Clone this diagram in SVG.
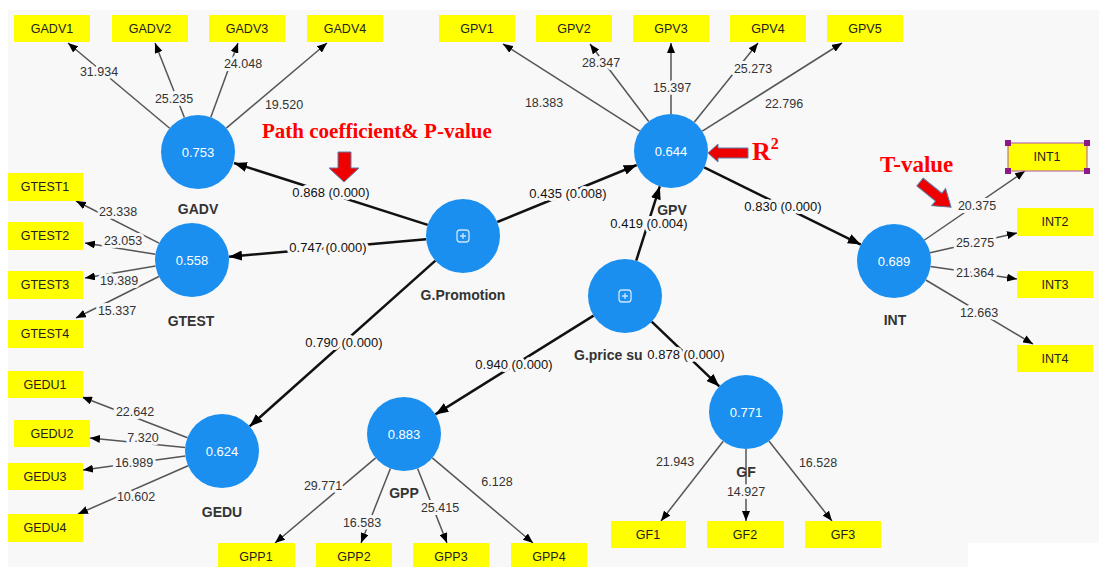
<svg xmlns="http://www.w3.org/2000/svg" width="1099" height="567" viewBox="0 0 1099 567">
<style>
.bg{fill:#f8f8f8}
.lv{fill:#1a8ff0}
.val{font-family:"Liberation Sans",Arial,sans-serif;font-size:13px;fill:#ffffff;text-anchor:middle}
.nl{font-family:"Liberation Sans",Arial,sans-serif;font-size:14px;font-weight:bold;fill:#333;text-anchor:middle}
.ind{fill:#ffff00}
.il{font-family:"Liberation Sans",Arial,sans-serif;font-size:12.5px;fill:#222;text-anchor:middle}
.ol{stroke:#555;stroke-width:1.5;fill:none}
.sp{stroke:#111;stroke-width:2.5;fill:none}
.tl{font-family:"Liberation Sans",Arial,sans-serif;font-size:12.5px;fill:#333;text-anchor:middle;paint-order:stroke;stroke:#f8f8f8;stroke-width:6;stroke-linejoin:round}
.pl{font-family:"Liberation Sans",Arial,sans-serif;font-size:13px;fill:#111;text-anchor:middle;paint-order:stroke;stroke:#f8f8f8;stroke-width:6;stroke-linejoin:round}
.red{font-family:"Liberation Serif","Times New Roman",serif;font-weight:bold;fill:#ff0000}
.rarrow{fill:#ee0000;stroke:#5a7fa8;stroke-width:1}
.icon{fill:none;stroke:#cfe6ff;stroke-width:1.3}
</style>
<defs>
<marker id="ah" markerWidth="10" markerHeight="8" refX="10" refY="4" orient="auto" markerUnits="userSpaceOnUse"><path d="M0,0 L10,4 L0,8 z" fill="#000"/></marker>
<marker id="ahb" markerWidth="13" markerHeight="10" refX="13" refY="5" orient="auto" markerUnits="userSpaceOnUse"><path d="M0,0 L13,5 L0,10 z" fill="#000"/></marker>
</defs>
<rect x="0" y="0" width="1099" height="567" fill="#ffffff"/>
<rect class="bg" x="8" y="10" width="1091" height="557"/>
<rect x="968" y="543" width="131" height="24" fill="#ffffff"/>

<g id="connectors">
<line class="ol" x1="169.7" y1="128.2" x2="68" y2="43" marker-end="url(#ah)"/>
<line class="ol" x1="184.4" y1="117.6" x2="155" y2="43" marker-end="url(#ah)"/>
<line class="ol" x1="210.8" y1="117.3" x2="238" y2="43" marker-end="url(#ah)"/>
<line class="ol" x1="226.3" y1="128.1" x2="327" y2="43" marker-end="url(#ah)"/>
<line class="ol" x1="639.8" y1="131.1" x2="503" y2="44" marker-end="url(#ah)"/>
<line class="ol" x1="648.7" y1="121.5" x2="590" y2="44" marker-end="url(#ah)"/>
<line class="ol" x1="671" y1="114" x2="671" y2="43" marker-end="url(#ah)"/>
<line class="ol" x1="694.2" y1="122.2" x2="758" y2="43" marker-end="url(#ah)"/>
<line class="ol" x1="702.3" y1="131.2" x2="842" y2="43" marker-end="url(#ah)"/>
<line class="ol" x1="159" y1="243.2" x2="76" y2="201" marker-end="url(#ah)"/>
<line class="ol" x1="155.4" y1="254.2" x2="85" y2="243" marker-end="url(#ah)"/>
<line class="ol" x1="155.5" y1="266.1" x2="85" y2="278" marker-end="url(#ah)"/>
<line class="ol" x1="158.9" y1="276.5" x2="76" y2="318" marker-end="url(#ah)"/>
<line class="ol" x1="187.5" y1="437.7" x2="82" y2="397" marker-end="url(#ah)"/>
<line class="ol" x1="185.2" y1="447.4" x2="90" y2="438" marker-end="url(#ah)"/>
<line class="ol" x1="185.3" y1="456" x2="83" y2="470" marker-end="url(#ah)"/>
<line class="ol" x1="188.1" y1="465.8" x2="78" y2="514" marker-end="url(#ah)"/>
<line class="ol" x1="924.5" y1="240" x2="1025" y2="171" marker-end="url(#ah)"/>
<line class="ol" x1="930.1" y1="252.8" x2="1017" y2="233" marker-end="url(#ah)"/>
<line class="ol" x1="930.6" y1="266.4" x2="1017" y2="279" marker-end="url(#ah)"/>
<line class="ol" x1="925.8" y1="280" x2="1033" y2="344" marker-end="url(#ah)"/>
<line class="ol" x1="375.7" y1="457.9" x2="275" y2="543" marker-end="url(#ah)"/>
<line class="ol" x1="390.4" y1="468.4" x2="361" y2="543" marker-end="url(#ah)"/>
<line class="ol" x1="417.6" y1="468.4" x2="447" y2="543" marker-end="url(#ah)"/>
<line class="ol" x1="432.3" y1="457.9" x2="533" y2="543" marker-end="url(#ah)"/>
<line class="ol" x1="723.2" y1="441.2" x2="661" y2="521" marker-end="url(#ah)"/>
<line class="ol" x1="746" y1="449" x2="746" y2="521" marker-end="url(#ah)"/>
<line class="ol" x1="768.9" y1="441" x2="832" y2="521" marker-end="url(#ah)"/>
<line class="sp" x1="427.7" y1="224.9" x2="234" y2="163" marker-end="url(#ahb)"/>
<line class="sp" x1="426.1" y1="239.3" x2="229" y2="256.7" marker-end="url(#ahb)"/>
<line class="sp" x1="435.4" y1="260.6" x2="249.6" y2="426.4" marker-end="url(#ahb)"/>
<line class="sp" x1="497.3" y1="222" x2="636.7" y2="165" marker-end="url(#ahb)"/>
<line class="sp" x1="636.2" y1="260.7" x2="659.8" y2="186.3" marker-end="url(#ahb)"/>
<line class="sp" x1="704.2" y1="167.4" x2="860.8" y2="244.6" marker-end="url(#ahb)"/>
<line class="sp" x1="593.6" y1="315.6" x2="435.4" y2="414.4" marker-end="url(#ahb)"/>
<line class="sp" x1="651.7" y1="321.6" x2="719.3" y2="386.4" marker-end="url(#ahb)"/>
<text class="tl" x="99" y="76">31.934</text>
<text class="tl" x="174" y="103">25.235</text>
<text class="tl" x="243" y="68">24.048</text>
<text class="tl" x="284" y="109">19.520</text>
<text class="tl" x="544" y="107">18.383</text>
<text class="tl" x="601" y="67">28.347</text>
<text class="tl" x="672" y="92">15.397</text>
<text class="tl" x="753" y="73">25.273</text>
<text class="tl" x="784" y="108">22.796</text>
<text class="tl" x="118" y="216">23.338</text>
<text class="tl" x="123" y="245">23.053</text>
<text class="tl" x="119" y="285">19.389</text>
<text class="tl" x="117" y="315">15.337</text>
<text class="tl" x="135" y="416">22.642</text>
<text class="tl" x="143" y="442">7.320</text>
<text class="tl" x="134" y="467">16.989</text>
<text class="tl" x="136" y="501">10.602</text>
<text class="tl" x="977" y="210">20.375</text>
<text class="tl" x="975" y="247">25.275</text>
<text class="tl" x="975" y="277">21.364</text>
<text class="tl" x="979" y="317">12.663</text>
<text class="tl" x="323" y="490">29.771</text>
<text class="tl" x="362" y="527">16.583</text>
<text class="tl" x="440" y="512">25.415</text>
<text class="tl" x="497" y="486">6.128</text>
<text class="tl" x="675" y="466">21.943</text>
<text class="tl" x="746" y="496">14.927</text>
<text class="tl" x="818" y="467">16.528</text>
<text class="pl" x="331" y="197">0.868 (0.000)</text>
<text class="pl" x="328" y="252">0.747 (0.000)</text>
<text class="pl" x="344" y="347">0.790 (0.000)</text>
<text class="pl" x="568" y="198">0.435 (0.008)</text>
<text class="pl" x="649" y="228">0.419 (0.004)</text>
<text class="pl" x="783" y="211">0.830 (0.000)</text>
<text class="pl" x="514" y="369">0.940 (0.000)</text>
<text class="pl" x="686" y="359">0.878 (0.000)</text>
</g>

<g id="GADV"><circle class="lv" cx="198" cy="152" r="37"/><text class="val" x="198" y="157">0.753</text><text class="nl" x="198" y="214">GADV</text></g>
<g id="GTEST"><circle class="lv" cx="192" cy="260" r="37"/><text class="val" x="192" y="265">0.558</text><text class="nl" x="191" y="326">GTEST</text></g>
<g id="GPromotion"><circle class="lv" cx="463" cy="236" r="37"/><rect class="icon" x="457" y="230" width="12" height="12" rx="3"/><path class="icon" d="M463,233 V239 M460,236 H466"/><text class="nl" x="463" y="300">G.Promotion</text></g>
<g id="GPV"><circle class="lv" cx="671" cy="151" r="37"/><text class="val" x="671" y="156">0.644</text><text class="nl" x="672" y="215">GPV</text></g>
<g id="GPriceSub"><circle class="lv" cx="625" cy="296" r="37"/><rect class="icon" x="619" y="290" width="12" height="12" rx="3"/><path class="icon" d="M625,293 V299 M622,296 H628"/><text class="nl" x="574" y="360" style="text-anchor:start">G.price su</text></g>
<g id="INT"><circle class="lv" cx="894" cy="261" r="37"/><text class="val" x="894" y="266">0.689</text><text class="nl" x="895" y="325">INT</text></g>
<g id="GEDU"><circle class="lv" cx="222" cy="451" r="37"/><text class="val" x="222" y="456">0.624</text><text class="nl" x="222" y="517">GEDU</text></g>
<g id="GPP"><circle class="lv" cx="404" cy="434" r="37"/><text class="val" x="404" y="439">0.883</text><text class="nl" x="404" y="498">GPP</text></g>
<g id="GF"><circle class="lv" cx="746" cy="412" r="37"/><text class="val" x="746" y="417">0.771</text><text class="nl" x="746" y="477">GF</text></g>

<g id="GADV1"><rect class="ind" x="14" y="15" width="76" height="27"/><text class="il" x="52" y="33">GADV1</text></g>
<g id="GADV2"><rect class="ind" x="112" y="15" width="76" height="27"/><text class="il" x="150" y="33">GADV2</text></g>
<g id="GADV3"><rect class="ind" x="209" y="15" width="76" height="27"/><text class="il" x="247" y="33">GADV3</text></g>
<g id="GADV4"><rect class="ind" x="307" y="15" width="76" height="27"/><text class="il" x="345" y="33">GADV4</text></g>
<g id="GPV1"><rect class="ind" x="439" y="15" width="76" height="27"/><text class="il" x="477" y="33">GPV1</text></g>
<g id="GPV2"><rect class="ind" x="536" y="15" width="76" height="27"/><text class="il" x="574" y="33">GPV2</text></g>
<g id="GPV3"><rect class="ind" x="633" y="15" width="76" height="27"/><text class="il" x="671" y="33">GPV3</text></g>
<g id="GPV4"><rect class="ind" x="730" y="15" width="76" height="27"/><text class="il" x="768" y="33">GPV4</text></g>
<g id="GPV5"><rect class="ind" x="827" y="15" width="76" height="27"/><text class="il" x="865" y="33">GPV5</text></g>
<g id="GTEST1"><rect class="ind" x="8" y="173" width="75" height="28"/><text class="il" x="45" y="191">GTEST1</text></g>
<g id="GTEST2"><rect class="ind" x="8" y="222" width="75" height="28"/><text class="il" x="45" y="240">GTEST2</text></g>
<g id="GTEST3"><rect class="ind" x="8" y="271" width="75" height="28"/><text class="il" x="45" y="289">GTEST3</text></g>
<g id="GTEST4"><rect class="ind" x="8" y="320" width="75" height="28"/><text class="il" x="45" y="338">GTEST4</text></g>
<g id="GEDU1"><rect class="ind" x="8" y="371" width="75" height="27"/><text class="il" x="45" y="389">GEDU1</text></g>
<g id="GEDU2"><rect class="ind" x="14" y="420" width="76" height="27"/><text class="il" x="52" y="438">GEDU2</text></g>
<g id="GEDU3"><rect class="ind" x="8" y="463" width="75" height="27"/><text class="il" x="45" y="481">GEDU3</text></g>
<g id="GEDU4"><rect class="ind" x="8" y="514" width="75" height="28"/><text class="il" x="45" y="532">GEDU4</text></g>
<g id="GPP1"><rect class="ind" x="218" y="543" width="77" height="27"/><text class="il" x="256" y="561">GPP1</text></g>
<g id="GPP2"><rect class="ind" x="316" y="543" width="76" height="27"/><text class="il" x="354" y="561">GPP2</text></g>
<g id="GPP3"><rect class="ind" x="413" y="543" width="76" height="27"/><text class="il" x="451" y="561">GPP3</text></g>
<g id="GPP4"><rect class="ind" x="511" y="543" width="76" height="27"/><text class="il" x="549" y="561">GPP4</text></g>
<g id="GF1"><rect class="ind" x="611" y="521" width="75" height="27"/><text class="il" x="648" y="539">GF1</text></g>
<g id="GF2"><rect class="ind" x="707" y="521" width="77" height="27"/><text class="il" x="745" y="539">GF2</text></g>
<g id="GF3"><rect class="ind" x="805" y="521" width="76" height="27"/><text class="il" x="843" y="539">GF3</text></g>
<g id="INT1"><rect class="ind" x="1008" y="143" width="79" height="28" stroke="#b050b0" stroke-width="1"/><text class="il" x="1047" y="161">INT1</text>
<rect x="1005" y="140" width="6" height="6" fill="#8a1a8a"/><rect x="1084" y="140" width="6" height="6" fill="#8a1a8a"/><rect x="1005" y="168" width="6" height="6" fill="#8a1a8a"/><rect x="1084" y="168" width="6" height="6" fill="#8a1a8a"/></g>
<g id="INT2"><rect class="ind" x="1017" y="208" width="76" height="28"/><text class="il" x="1055" y="226">INT2</text></g>
<g id="INT3"><rect class="ind" x="1017" y="271" width="76" height="27"/><text class="il" x="1055" y="289">INT3</text></g>
<g id="INT4"><rect class="ind" x="1017" y="345" width="76" height="27"/><text class="il" x="1055" y="363">INT4</text></g>

<g id="annotations">
<text class="red" x="262" y="138" font-size="21">Path coefficient&amp; P-value</text>
<polygon class="rarrow" points="338,152 351,152 351,168 359,168 344,182 329,168 338,168"/>
<polygon class="rarrow" points="708,153 718,144 718,148 748,148 748,158 718,158 718,162"/>
<text class="red" x="752" y="160" font-size="26">R<tspan font-size="16" dy="-11">2</tspan></text>
<text class="red" x="880" y="172" font-size="23">T-value</text>
<polygon class="rarrow" transform="translate(920,182) rotate(39)" points="0,-5 24,-5 24,-11 40,0 24,11 24,5 0,5"/>
</g>
</svg>
